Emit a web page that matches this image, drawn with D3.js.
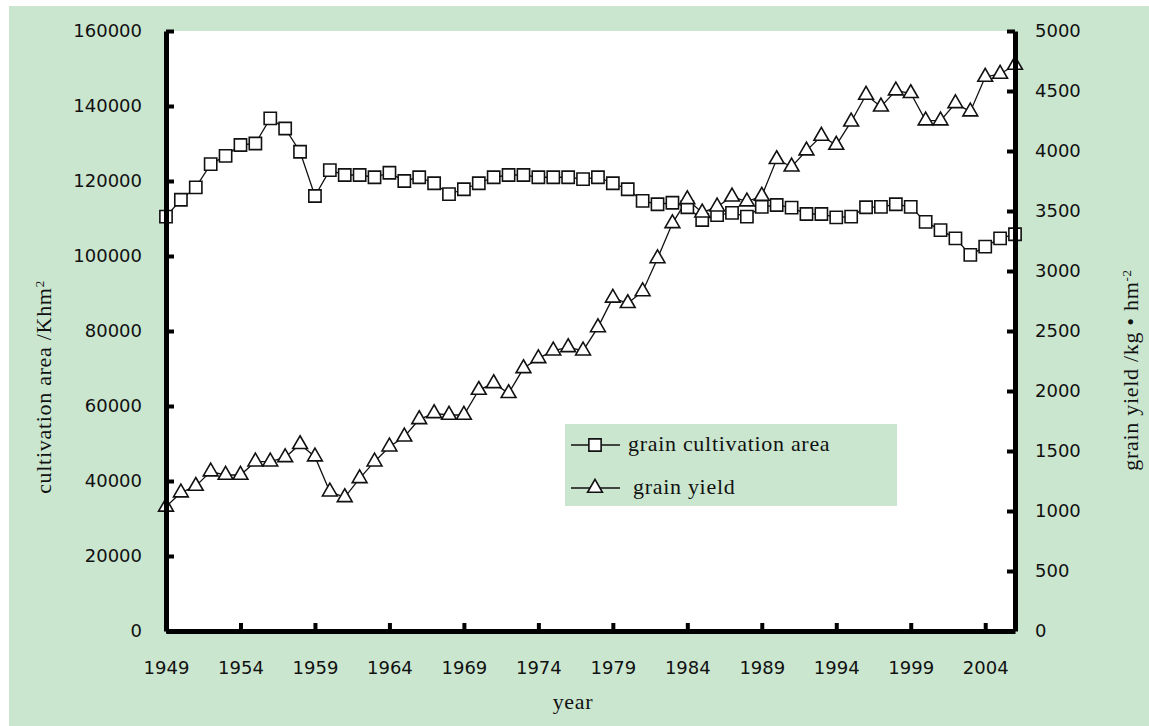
<!DOCTYPE html>
<html>
<head>
<meta charset="utf-8">
<script src="https://cdn.jsdelivr.net/npm/d3@7"></script>
<style>
    html, body { margin: 0; padding: 0; background: #fff; }
    .tick text { font-family: "DejaVu Sans", sans-serif; font-size: 18px; fill: #111; }
    .title { font-family: "Liberation Serif", serif; font-size: 22px; letter-spacing: 0.7px; fill: #111; }
</style>
</head>
<body>
<div id="graph-01"></div>
<script>
// data
var years = d3.range(1949, 2007);

var areaValues = [
    110500, 115000, 118300, 124500, 126700, 129600, 130000, 136700, 134000, 127800,
    116000, 122900, 121600, 121600, 121000, 122200, 120000, 121000, 119400, 116500,
    117800, 119400, 121000, 121600, 121600, 121000, 121000, 121000, 120500, 121000,
    119400, 117800, 114700, 113800, 114200, 113000, 109600, 110900, 111500, 110500,
    113100, 113600, 112900, 111200, 111200, 110300, 110500, 113000, 113100, 113800,
    113100, 109100, 106900, 104700, 100300, 102500, 104700, 105800
];

var yieldValues = [
    1035, 1153, 1208, 1328, 1300, 1300, 1411, 1411, 1447, 1556,
    1453, 1161, 1114, 1272, 1411, 1536, 1619, 1764, 1814, 1800,
    1800, 2008, 2064, 1981, 2189, 2272, 2336, 2364, 2336, 2530,
    2776, 2731, 2830, 3105, 3397, 3597, 3486, 3536, 3619, 3578,
    3625, 3931, 3869, 4003, 4125, 4050, 4244, 4467, 4369, 4503,
    4481, 4253, 4253, 4397, 4328, 4617, 4642, 4717
];

var yearTicks  = [1949, 1954, 1959, 1964, 1969, 1974, 1979, 1984, 1989, 1994, 1999, 2004];
var leftTicks  = [0, 20000, 40000, 60000, 80000, 100000, 120000, 140000, 160000];
var rightTicks = [0, 500, 1000, 1500, 2000, 2500, 3000, 3500, 4000, 4500, 5000];

var legendNames = ['grain cultivation area', 'grain yield'];

(function(){
    var WIDTH  = 1149,
        HEIGHT = 726,
        LEFT   = 166,
        RIGHT  = 1015,
        TOP    = 31,
        BOTTOM = 631,
        GREEN  = '#cbe6cf';

    var svg = d3.select('div#graph-01')
        .append('svg')
        .attr('width', WIDTH)
        .attr('height', HEIGHT);

    // background + plot area
    svg.append('rect')
        .attr('x', 9).attr('y', 6)
        .attr('width', WIDTH - 9).attr('height', HEIGHT - 6)
        .attr('fill', GREEN);

    svg.append('rect')
        .attr('x', LEFT).attr('y', TOP)
        .attr('width', RIGHT - LEFT).attr('height', BOTTOM - TOP)
        .attr('fill', '#fff');

    // scales
    var x  = d3.scaleLinear().domain([1949, 2006]).range([LEFT, RIGHT]);
    var yL = d3.scaleLinear().domain([0, 160000]).range([BOTTOM, TOP]);
    var yR = d3.scaleLinear().domain([0, 5000]).range([BOTTOM, TOP]);

    var rows = years.map(function(y, i){
        return { year: y, area: areaValues[i], yield: yieldValues[i] };
    });

    // series ==========================================================
    var areaLine = d3.line()
        .x(function(d){ return x(d.year) })
        .y(function(d){ return yL(d.area) });

    var yieldLine = d3.line()
        .x(function(d){ return x(d.year) })
        .y(function(d){ return yR(d.yield) });

    svg.append('path')
        .datum(rows)
        .attr('d', areaLine)
        .attr('fill', 'none')
        .attr('stroke', '#111')
        .attr('stroke-width', 1.3);

    svg.append('path')
        .datum(rows)
        .attr('d', yieldLine)
        .attr('fill', 'none')
        .attr('stroke', '#111')
        .attr('stroke-width', 1.3);

    var square   = d3.symbol().type(d3.symbolSquare).size(150);
    var triangle = d3.symbol().type(d3.symbolTriangle).size(95);

    svg.append('g').attr('class', 'area-marks')
        .selectAll('path')
        .data(rows)
        .enter().append('path')
        .attr('d', square)
        .attr('transform', function(d){ return 'translate(' + x(d.year) + ',' + yL(d.area) + ')' })
        .attr('fill', '#fff')
        .attr('stroke', '#111')
        .attr('stroke-width', 1.6);

    svg.append('g').attr('class', 'yield-marks')
        .selectAll('path')
        .data(rows)
        .enter().append('path')
        .attr('d', triangle)
        .attr('transform', function(d){ return 'translate(' + x(d.year) + ',' + yR(d.yield) + ')' })
        .attr('fill', '#fff')
        .attr('stroke', '#111')
        .attr('stroke-width', 1.6);

    // axes ============================================================
    function styleAxis(g){
        g.select('.domain').attr('stroke', '#000').attr('stroke-width', 5);
        g.selectAll('.tick line').attr('stroke', '#000').attr('stroke-width', 4);
    }

    svg.append('g')
        .attr('transform', 'translate(' + LEFT + ',0)')
        .call(d3.axisLeft(yL).tickValues(leftTicks).tickFormat(d3.format('d'))
            .tickSizeInner(-8).tickSizeOuter(0).tickPadding(24))
        .call(styleAxis);

    svg.append('g')
        .attr('transform', 'translate(' + RIGHT + ',0)')
        .call(d3.axisRight(yR).tickValues(rightTicks).tickFormat(d3.format('d'))
            .tickSizeInner(-8).tickSizeOuter(0).tickPadding(20))
        .call(styleAxis);

    svg.append('g')
        .attr('transform', 'translate(0,' + BOTTOM + ')')
        .call(d3.axisBottom(x).tickValues(yearTicks).tickFormat(d3.format('d'))
            .tickSizeInner(-8).tickSizeOuter(0).tickPadding(30))
        .call(styleAxis);

    svg.selectAll('.tick text').attr('font-family', null).attr('font-size', null);

    // titles ==========================================================
    svg.append('text')
        .attr('class', 'title')
        .attr('x', 573).attr('y', 709)
        .attr('text-anchor', 'middle')
        .text('year');

    var lt = svg.append('text')
        .attr('class', 'title')
        .attr('text-anchor', 'middle')
        .attr('transform', 'translate(51,387) rotate(-90)');
    lt.append('tspan').text('cultivation area /Khm');
    lt.append('tspan').attr('baseline-shift', 'super').attr('font-size', 13).text('2');

    var rt = svg.append('text')
        .attr('class', 'title')
        .attr('text-anchor', 'middle')
        .attr('transform', 'translate(1138,370) rotate(-90)');
    rt.append('tspan').text('grain yield /kg \u2022 hm');
    rt.append('tspan').attr('baseline-shift', 'super').attr('font-size', 13).text('-2');

    // legend ==========================================================
    var legend = svg.append('g').attr('class', 'legend');

    legend.append('rect')
        .attr('x', 565).attr('y', 424)
        .attr('width', 332).attr('height', 82)
        .attr('fill', GREEN);

    var items = legend.selectAll('g.item')
        .data(legendNames)
        .enter().append('g')
        .attr('class', 'item')
        .attr('transform', function(d, i){ return 'translate(0,' + (445 + i * 43) + ')' });

    items.append('line')
        .attr('x1', 571).attr('x2', 620)
        .attr('stroke', '#111').attr('stroke-width', 1.3);

    items.append('path')
        .attr('d', function(d, i){ return i === 0 ? square() : triangle() })
        .attr('transform', 'translate(595,0)')
        .attr('fill', '#fff')
        .attr('stroke', '#111')
        .attr('stroke-width', 1.6);

    items.append('text')
        .attr('class', 'title')
        .attr('x', function(d, i){ return i === 0 ? 628 : 633 })
        .attr('y', 6)
        .text(function(d){ return d });

})();
</script>
</body>
</html>
